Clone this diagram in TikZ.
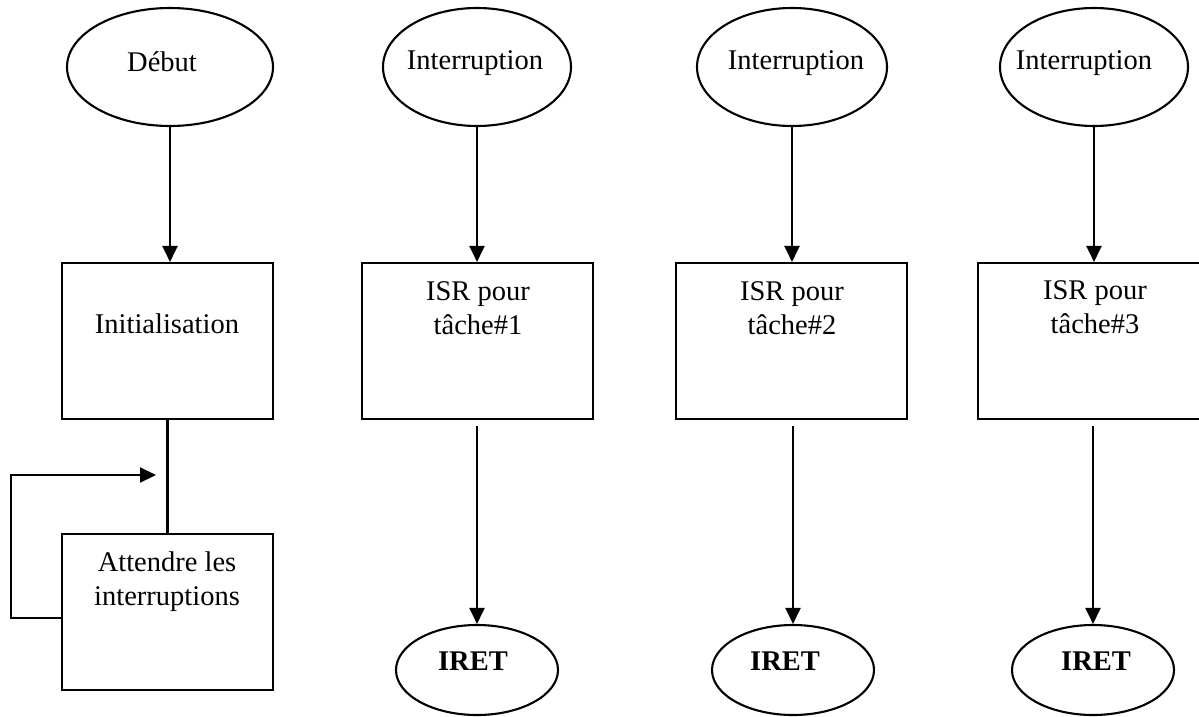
\documentclass[tikz,border=0pt]{standalone}
\usepackage{fontspec}
\setmainfont{Liberation Serif}
\usetikzlibrary{shapes.geometric,arrows.meta,calc}
\begin{document}
\begin{tikzpicture}[x=1pt,y=-1pt,line width=2.1pt,
  txt/.style={font=\fontsize{28.5}{34}\selectfont, inner sep=0pt, anchor=base, align=center},
  oval/.style={draw, ellipse, inner sep=0pt, minimum height=118pt},
  endoval/.style={draw, ellipse, inner sep=0pt, minimum width=162pt, minimum height=90pt},
  stepbox/.style={draw, rectangle, inner sep=0pt, minimum height=156pt},
  arr/.style={-{Triangle[length=16pt,width=15pt]}}]
\useasboundingbox (0,0) rectangle (1199,717);
\clip (0,0) rectangle (1199,717);

% start / interrupt entry points
\node[oval, minimum width=206pt] (debut) at (170,67) {};
\node[oval, minimum width=188pt] (int1) at (477,67) {};
\node[oval, minimum width=190pt] (int2) at (792,67) {};
\node[oval, minimum width=188pt] (int3) at (1094,67) {};

% processing boxes
\node[stepbox, minimum width=211pt] (init) at (167.5,341) {};
\node[stepbox, minimum width=231pt] (isr1) at (477.5,341) {};
\node[stepbox, minimum width=231pt] (isr2) at (791.5,341) {};
\node[stepbox, minimum width=231pt] (isr3) at (1093.5,341) {};
\node[stepbox, minimum width=211pt] (attente) at (167.5,612) {};

% return from interrupt
\node[endoval] (iret1) at (477,670) {};
\node[endoval] (iret2) at (793,670) {};
\node[endoval] (iret3) at (1093,670) {};

% labels (anchor=base sits on the last line of a two-line label)
\node[txt] (tdebut) at (162,71) {Début};
\node[txt] (tint1) at (475,70) {Interruption};
\node[txt] (tint2) at (796,70) {Interruption};
\node[txt] (tint3) at (1084,70) {Interruption};
\node[txt] (tinit) at (167,333) {Initialisation};
\node[txt] (tisr1) at (478,334) {ISR pour\\tâche\#1};
\node[txt] (tisr2) at (792,334) {ISR pour\\tâche\#2};
\node[txt] (tisr3) at (1095,333) {ISR pour\\tâche\#3};
\node[txt] (tatt) at (167,605) {Attendre les\\interruptions};
\node[txt, font=\fontsize{28.5}{34}\selectfont\bfseries] (tiret1) at (473,670) {IRET};
\node[txt, font=\fontsize{28.5}{34}\selectfont\bfseries] (tiret2) at (785,670) {IRET};
\node[txt, font=\fontsize{28.5}{34}\selectfont\bfseries] (tiret3) at (1096,670) {IRET};

% connectors
\draw[arr] (debut.south) -- (debut.south |- init.north);
\draw[arr] (int1.south) -- (int1.south |- isr1.north);
\draw[arr] (int2.south) -- (int2.south |- isr2.north);
\draw[arr] (int3.south) -- (int3.south |- isr3.north);
\draw (init.south) -- (attente.north);
\draw[arr] ([yshift=-6pt]iret1.north |- isr1.south) -- (iret1.north);
\draw[arr] ([yshift=-6pt]iret2.north |- isr2.south) -- (iret2.north);
\draw[arr] ([yshift=-6pt]iret3.north |- isr3.south) -- (iret3.north);

% waiting loop
\coordinate (loopin) at (156,475);
\draw[arr] ([yshift=-6pt]attente.west) -- ++(-50,0) |- (loopin);
\end{tikzpicture}
\end{document}
